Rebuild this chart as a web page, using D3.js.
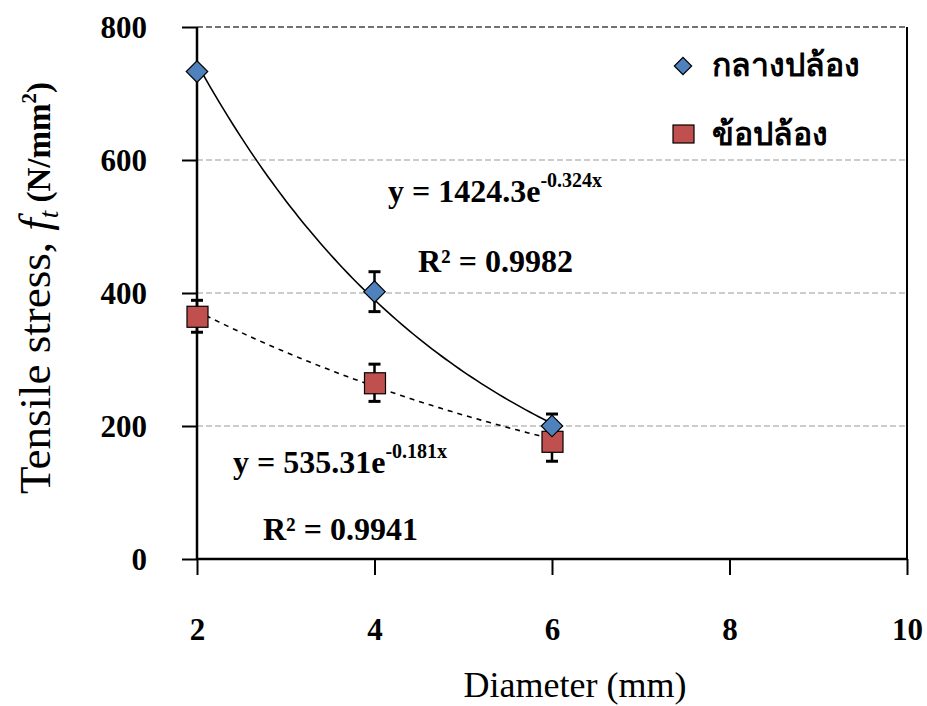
<!DOCTYPE html>
<html>
<head>
<meta charset="utf-8">
<script src="https://cdn.jsdelivr.net/npm/d3@7"></script>
<style>
  body { margin: 0; background: #fff; }
  svg { display: block; }
</style>
</head>
<body>
<svg id="chart" width="927" height="706"></svg>
<script>
// data
var diameters = [2, 4, 6];
var seriesNames = ["กลางปล้อง", "ข้อปล้อง"];
var midValues = [733, 402, 200];     // กลางปล้อง
var midErrors = [0, 30, 18];
var nodeValues = [365, 265, 177];    // ข้อปล้อง
var nodeErrors = [24, 28, 30];
var trendA = [1424.3, 535.31];       // y = a * e^(b x)
var trendB = [-0.324, -0.181];
var r2Values = ["0.9982", "0.9941"];
var xTicks = [2, 4, 6, 8, 10];
var yTicks = [0, 200, 400, 600, 800];

var svg = d3.select('#chart');
var plotLeft = 197, plotRight = 907, plotTop = 27, plotBottom = 559;
var x = d3.scaleLinear().domain([2, 10]).range([plotLeft, plotRight]);
var y = d3.scaleLinear().domain([0, 800]).range([plotBottom, plotTop]);
var serif = '"Liberation Serif", "Times New Roman", serif';
var colors = { mid: "#4f81bd", node: "#c0504d" };

// grid lines (dashed)
svg.append('g')
  .selectAll('line')
  .data(yTicks.filter(function(d){ return d > 0; }))
  .enter()
  .append('line')
    .attr('x1', plotLeft).attr('x2', plotRight)
    .attr('y1', function(d){ return y(d); })
    .attr('y2', function(d){ return y(d); })
    .attr('stroke', function(d){ return d == 800 ? '#444' : '#999'; })
    .attr('stroke-width', function(d){ return d == 800 ? 1.5 : 1; })
    .attr('stroke-dasharray', '6,3');

// right border
svg.append('line')
  .attr('x1', plotRight).attr('x2', plotRight)
  .attr('y1', plotTop).attr('y2', plotBottom)
  .attr('stroke', '#000').attr('stroke-width', 2);

// axes
var xAxis = d3.axisBottom(x).tickValues(xTicks).tickSize(16).tickFormat(d3.format('d'));
var gx = svg.append('g').attr('transform', 'translate(0,' + plotBottom + ')').call(xAxis);
var yAxis = d3.axisLeft(y).tickValues(yTicks).tickSize(15).tickFormat(d3.format('d'));
var gy = svg.append('g').attr('transform', 'translate(' + plotLeft + ',0)').call(yAxis);
[gx, gy].forEach(function(g) {
  g.attr('font-family', null).attr('font-size', null);
  g.select('.domain').attr('stroke', '#000').attr('stroke-width', 2.5);
  g.selectAll('.tick line').attr('stroke', '#000').attr('stroke-width', 2);
  g.selectAll('.tick text')
    .attr('fill', '#000')
    .style('font-family', serif)
    .style('font-weight', 'bold')
    .style('font-size', '31px');
});
gx.select('.domain').attr('d', 'M' + plotLeft + ',0H' + plotRight);
gx.selectAll('.tick text').attr('y', 81).attr('dy', 0);
gy.select('.domain').attr('d', 'M0,' + plotBottom + 'V' + plotTop);
gy.selectAll('.tick text').attr('x', -50).attr('dy', '0.35em');

// trend lines
var trendStyles = [null, '5,5'];
trendA.forEach(function(a, i) {
  var xs = d3.range(2, 6.001, 0.05);
  var line = d3.line()
    .x(function(d){ return x(d); })
    .y(function(d){ return y(a * Math.exp(trendB[i] * d)); })
    .curve(d3.curveMonotoneX);
  svg.append('path')
    .attr('d', line(xs))
    .attr('fill', 'none')
    .attr('stroke', '#000')
    .attr('stroke-width', 1.6)
    .attr('stroke-dasharray', trendStyles[i]);
});

// error bars
function errorBars(values, errors) {
  var g = svg.append('g');
  values.forEach(function(v, i) {
    if (!errors[i]) return;
    var cx = x(diameters[i]);
    g.append('line')
      .attr('x1', cx).attr('x2', cx)
      .attr('y1', y(v - errors[i])).attr('y2', y(v + errors[i]))
      .attr('stroke', '#000').attr('stroke-width', 2.5);
    [v - errors[i], v + errors[i]].forEach(function(e) {
      g.append('line')
        .attr('x1', cx - 6).attr('x2', cx + 6)
        .attr('y1', y(e)).attr('y2', y(e))
        .attr('stroke', '#000').attr('stroke-width', 3);
    });
  });
}
errorBars(nodeValues, nodeErrors);
errorBars(midValues, midErrors);

// markers
svg.append('g')
  .selectAll('rect')
  .data(nodeValues)
  .enter()
  .append('rect')
    .attr('x', function(d, i){ return x(diameters[i]) - 10; })
    .attr('y', function(d){ return y(d) - 10; })
    .attr('width', 21).attr('height', 21)
    .attr('fill', colors.node)
    .attr('stroke', '#000').attr('stroke-width', 1.2);

var diamond = d3.symbol().type(d3.symbolSquare).size(230);
svg.append('g')
  .selectAll('path')
  .data(midValues)
  .enter()
  .append('path')
    .attr('d', diamond)
    .attr('transform', function(d, i){ return 'translate(' + x(diameters[i]) + ',' + y(d) + ') rotate(45)'; })
    .attr('fill', colors.mid)
    .attr('stroke', '#000').attr('stroke-width', 1.2);

// equations
var eqPos = [[388, 202, 418, 272], [233, 473, 263, 540]];
trendA.forEach(function(a, i) {
  var t = svg.append('text')
    .attr('x', eqPos[i][0]).attr('y', eqPos[i][1])
    .style('font-family', serif).style('font-weight', 'bold').style('font-size', '32px');
  t.append('tspan').text('y = ' + a + 'e');
  t.append('tspan').attr('dy', -15).style('font-size', '20px').text(trendB[i] + 'x');
  svg.append('text')
    .attr('x', eqPos[i][2]).attr('y', eqPos[i][3])
    .style('font-family', serif).style('font-weight', 'bold').style('font-size', '32px')
    .text('R² = ' + r2Values[i]);
});

// legend
var legend = svg.append('g');
legend.append('path')
  .attr('d', diamond.size(150)())
  .attr('transform', 'translate(683,66) rotate(45)')
  .attr('fill', colors.mid).attr('stroke', '#000').attr('stroke-width', 1.2);
legend.append('rect')
  .attr('x', 673).attr('y', 125).attr('width', 21).attr('height', 18)
  .attr('fill', colors.node).attr('stroke', '#000').attr('stroke-width', 1.2);
legend.selectAll('text')
  .data(seriesNames)
  .enter()
  .append('text')
    .attr('x', 712)
    .attr('y', function(d, i){ return 76 + i * 69; })
    .style('font-family', serif).style('font-weight', 'bold').style('font-size', '32px')
    .text(function(d){ return d; });

// axis titles
svg.append('text')
  .attr('x', 575).attr('y', 697)
  .attr('text-anchor', 'middle')
  .style('font-family', serif).style('font-size', '36px')
  .text('Diameter (mm)');

var yt = svg.append('text')
  .attr('transform', 'translate(50,288) rotate(-90)')
  .attr('text-anchor', 'middle')
  .style('font-family', serif).style('font-size', '45px');
yt.append('tspan').text('Tensile stress,');
yt.append('tspan').style('font-style', 'italic').text(' f');
yt.append('tspan').style('font-style', 'italic').style('font-size', '27px').attr('dy', 8).text('t');
yt.append('tspan').attr('dy', -8).style('font-weight', 'bold').style('font-size', '33px').text(' (N/mm');
yt.append('tspan').attr('dy', -14).style('font-weight', 'bold').style('font-size', '21px').text('2');
yt.append('tspan').attr('dy', 14).style('font-weight', 'bold').style('font-size', '33px').text(')');
</script>
</body>
</html>
